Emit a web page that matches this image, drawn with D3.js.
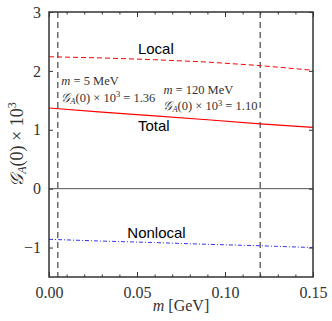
<!DOCTYPE html>
<html>
<head>
<meta charset="utf-8">
<script src="https://cdn.jsdelivr.net/npm/d3@7"></script>
<style>
  body { margin: 0; background: #fff; }
  .tick text { font-family: "Liberation Serif", "DejaVu Serif", serif; }
  .lbl { font-family: "Liberation Sans", Arial, sans-serif; font-size: 15px; fill: #000; }
  .note { font-family: "Liberation Serif", "DejaVu Serif", serif; font-size: 12.5px; fill: #333; }
</style>
</head>
<body>
<script>
// data
var masses = [0, 0.03, 0.06, 0.09, 0.12, 0.15];
var local = [2.24, 2.22, 2.19, 2.15, 2.09, 2.01];
var total = [1.37, 1.30, 1.235, 1.17, 1.10, 1.04];
var nonlocal = [-0.86, -0.89, -0.915, -0.945, -0.97, -1.0];
var markers = [0.005, 0.12];
var xTicks = [0, 0.05, 0.10, 0.15];
var yTicks = [-1, 0, 1, 2, 3];

var width = 332, height = 321;
var margin = { left: 49, right: 19, top: 12, bottom: 44 };
var chartWidth = width - margin.left - margin.right;
var chartHeight = height - margin.top - margin.bottom;

var svg = d3.select('body').append('svg')
    .attr('width', width)
    .attr('height', height);

var g = svg.append('g')
    .attr('transform', 'translate(' + margin.left + ',' + margin.top + ')');

var xScale = d3.scaleLinear().domain([0, 0.15]).range([0, chartWidth]);
var yScale = d3.scaleLinear().domain([-1.5, 3]).range([chartHeight, 0]);

// zero line
g.append('line')
    .attr('x1', 0).attr('x2', chartWidth)
    .attr('y1', yScale(0)).attr('y2', yScale(0))
    .attr('stroke', '#555').attr('stroke-width', 1);

// vertical markers
g.selectAll('.marker').data(markers).enter().append('line')
    .attr('class', 'marker')
    .attr('x1', d => xScale(d)).attr('x2', d => xScale(d))
    .attr('y1', 0).attr('y2', chartHeight)
    .attr('stroke', '#555').attr('stroke-width', 1.3)
    .attr('stroke-dasharray', '6,4');

var line = d3.line()
    .x(function (d, i) { return xScale(masses[i]); })
    .y(function (d) { return yScale(d); });

g.append('path').datum(local)
    .attr('fill', 'none').attr('stroke', '#f00').attr('stroke-width', 1)
    .attr('stroke-dasharray', '5,3')
    .attr('d', line);

g.append('path').datum(total)
    .attr('fill', 'none').attr('stroke', '#f00').attr('stroke-width', 1.2)
    .attr('d', line);

g.append('path').datum(nonlocal)
    .attr('fill', 'none').attr('stroke', '#33f').attr('stroke-width', 1)
    .attr('stroke-dasharray', '4,2,1,2')
    .attr('d', line);

// axes with inward ticks
var xAxis = d3.axisBottom(xScale).tickValues(xTicks).tickFormat(d3.format('.2f'))
    .tickSizeInner(-5).tickSizeOuter(0).tickPadding(10);
var xMinor = d3.range(0, 0.151, 0.01);

g.append('g').attr('transform', 'translate(0,' + chartHeight + ')').call(xAxis);
g.append('g').call(d3.axisTop(xScale).tickValues(xTicks).tickFormat('')
    .tickSizeInner(-5).tickSizeOuter(0));
g.append('g').attr('transform', 'translate(0,' + chartHeight + ')')
    .call(d3.axisBottom(xScale).tickValues(xMinor).tickFormat('').tickSizeInner(-2.5).tickSizeOuter(0));
g.append('g')
    .call(d3.axisTop(xScale).tickValues(xMinor).tickFormat('').tickSizeInner(-2.5).tickSizeOuter(0));

g.append('g').call(d3.axisLeft(yScale).tickValues(yTicks)
    .tickFormat(function (d) { return d < 0 ? '\u2212' + Math.abs(d) : d; })
    .tickSizeInner(-4).tickSizeOuter(0).tickPadding(8));
g.append('g').attr('transform', 'translate(' + chartWidth + ',0)')
    .call(d3.axisRight(yScale).tickValues(yTicks).tickFormat('').tickSizeInner(-4).tickSizeOuter(0));

g.selectAll('.domain').remove();
g.selectAll('.tick line').attr('stroke', '#333');
g.selectAll('.tick text').attr('font-size', 16).attr('fill', '#333');

// frame
g.append('rect')
    .attr('width', chartWidth).attr('height', chartHeight)
    .attr('fill', 'none').attr('stroke', '#333').attr('stroke-width', 1.5);

// curve labels
g.append('text').attr('class', 'lbl').attr('x', xScale(0.0505)).attr('y', yScale(2.29)).text('Local');
g.append('text').attr('class', 'lbl').attr('x', xScale(0.0505)).attr('y', yScale(0.98)).text('Total');
g.append('text').attr('class', 'lbl').attr('x', xScale(0.0445)).attr('y', yScale(-0.84)).text('Nonlocal');

// annotations
function note(x, y, lines) {
    var t = g.append('text').attr('class', 'note').attr('x', xScale(x)).attr('y', yScale(y))
        .attr('xml:space', 'preserve');
    lines.forEach(function (l, i) {
        var ts = t.append('tspan').attr('x', xScale(x)).attr('dy', i ? 16.5 : 0);
        l.forEach(function (p) {
            var s = ts.append('tspan').text(p[0]);
            if (p[1]) s.attr('font-style', 'italic');
            if (p[2] === 'sub') s.attr('font-size', 8.5).attr('dy', 2);
            if (p[2] === 'up') s.attr('dy', -2);
            if (p[2] === 'sup') s.attr('font-size', 8.5).attr('dy', -4.5);
            if (p[2] === 'down') s.attr('dy', 4.5);
        });
    });
}
note(0.007, 1.76, [
    [['m', 1], [' = 5 MeV']],
    [['\uD835\uDCA2', 1], ['A', 1, 'sub'], ['(0) \u00D7 10', 0, 'up'], ['3', 0, 'sup'], [' = 1.36', 0, 'down']]
]);
note(0.065, 1.61, [
    [['m', 1], [' = 120 MeV']],
    [['\uD835\uDCA2', 1], ['A', 1, 'sub'], ['(0) \u00D7 10', 0, 'up'], ['3', 0, 'sup'], [' = 1.10', 0, 'down']]
]);

// axis titles
svg.append('text')
    .attr('x', margin.left + chartWidth / 2).attr('y', 311)
    .attr('text-anchor', 'middle')
    .attr('font-family', '"Liberation Serif", "DejaVu Serif", serif').attr('font-size', 16).attr('fill', '#333')
    .html('<tspan font-style="italic">m</tspan> [GeV]');

svg.append('text')
    .attr('transform', 'translate(23,' + (margin.top + chartHeight / 2) + ') rotate(-90)')
    .attr('text-anchor', 'middle')
    .attr('font-family', '"Liberation Serif", "DejaVu Serif", serif').attr('font-size', 18).attr('fill', '#333')
    .html('<tspan font-style="italic">\uD835\uDCA2</tspan><tspan font-style="italic" font-size="12" dy="3">A</tspan><tspan dy="-3">(0) \u00D7 10</tspan><tspan font-size="12" dy="-7">3</tspan>');
</script>
</body>
</html>
